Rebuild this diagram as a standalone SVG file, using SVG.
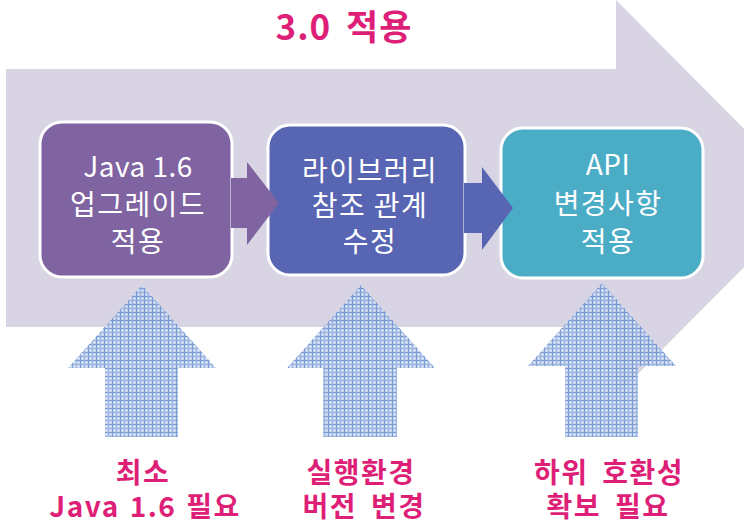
<svg xmlns="http://www.w3.org/2000/svg" width="744" height="524" viewBox="0 0 744 524">
<defs>
<pattern id="plaid" width="8" height="8" patternUnits="userSpaceOnUse">
<rect width="8" height="8" fill="#BACCEC"/>
<rect x="0" y="0" width="8" height="1" fill="#6A90CD"/>
<rect x="0" y="4" width="8" height="1" fill="#8DACDD"/>
<rect x="0" y="0" width="1" height="8" fill="#6A90CD"/>
<rect x="4" y="0" width="1" height="8" fill="#8DACDD"/>
<rect x="2" y="2" width="1" height="1" fill="#FFFFFF"/>
<rect x="6" y="6" width="1" height="1" fill="#FFFFFF"/>
<rect x="6" y="2" width="1" height="1" fill="#EEF3FB"/>
<rect x="2" y="6" width="1" height="1" fill="#EEF3FB"/>
</pattern>
</defs>
<style>
.node text{font-family:"Noto Sans CJK KR","Liberation Sans",sans-serif;font-size:28px;letter-spacing:1.4px;fill:#FFFFFF;text-anchor:middle}
.node text.lat{letter-spacing:0.5px}
.box{stroke:#FFFFFF;stroke-width:3}
.lbl{font-family:"Noto Sans CJK KR","Liberation Sans",sans-serif;font-size:28px;letter-spacing:1.5px;word-spacing:6px;font-weight:bold;fill:#DE1F77;text-anchor:middle}
.up{fill:url(#plaid);opacity:0.88}
</style>
<rect width="744" height="524" fill="#FFFFFF"/>
<g id="background-arrow">
<polygon points="6,69 616,69 616,0 813,198 616,396 616,327 6,327" fill="#D8D4E3"/>
</g>
<text class="lbl" x="344" y="40" style="font-size:35px;letter-spacing:1px">3.0 적용</text>
<g id="node1" class="node">
<rect class="box" x="40" y="122" width="192" height="155" rx="22" fill="#8064A2"/>
<text class="lat" x="138" y="177">Java 1.6</text>
<text x="138" y="215">업그레이드</text>
<text x="138" y="252">적용</text>
</g>
<g id="node2" class="node">
<rect class="box" x="268" y="125" width="197" height="150" rx="22" fill="#5865B2"/>
<text x="370" y="181">라이브러리</text>
<text x="370" y="216">참조 관계</text>
<text x="370" y="252">수정</text>
</g>
<g id="node3" class="node">
<rect class="box" x="501" y="128" width="202" height="150" rx="22" fill="#4BACC6"/>
<text class="lat" x="608" y="175">API</text>
<text x="608" y="214">변경사항</text>
<text x="608" y="252">적용</text>
</g>
<g id="connectors">
<polygon points="231,178 247,178 247,162 279,203 247,245 247,228 231,228" fill="#8064A2"/>
<polygon points="464,183 482,183 482,167 513,208 482,250 482,233 464,233" fill="#5865B2"/>
</g>
<g id="up1">
<polygon class="up" points="142,285 216,368 178,368 178,437 105,437 105,368 68,368"/>
</g>
<g id="up2">
<polygon class="up" points="361,285 435,368 397,368 397,437 323,437 323,368 287,368"/>
</g>
<g id="up3">
<polygon class="up" points="602,283 676,366 638,366 638,437 565,437 565,366 528,366"/>
</g>
<g id="label1">
<text class="lbl" x="143" y="483">최소</text>
<text class="lbl" x="145" y="517" style="word-spacing:2px">Java 1.6 필요</text>
</g>
<g id="label2">
<text class="lbl" x="361" y="483">실행환경</text>
<text class="lbl" x="364" y="517">버전 변경</text>
</g>
<g id="label3">
<text class="lbl" x="609" y="483">하위 호환성</text>
<text class="lbl" x="608" y="517">확보 필요</text>
</g>
</svg>
